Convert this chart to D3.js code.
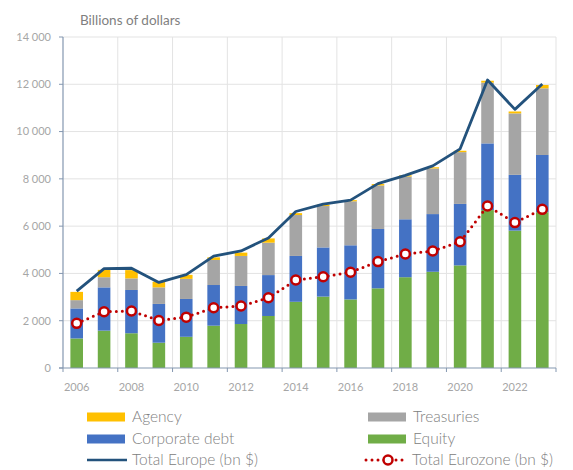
<!DOCTYPE html>
<html lang="en">
<head>
    <meta charset="UTF-8">
    <title>Billions of dollars</title>
    <script src="https://d3js.org/d3.v7.min.js"></script>
    <style>
        body {
            margin: 0;
            background: #ffffff;
            font-family: Lato, "Open Sans", sans-serif;
        }
        .tick-label {
            fill: #a6a6a6;
            font-size: 11px;
        }
        .legend-text {
            fill: #808080;
            font-size: 15.5px;
            font-weight: 300;
        }
    </style>
</head>
<body>
    <div id="chart"></div>

    <script>
        // Years on the category axis
        const years = [2006, 2007, 2008, 2009, 2010, 2011, 2012, 2013, 2014,
                       2015, 2016, 2017, 2018, 2019, 2020, 2021, 2022, 2023];

        // Stacked components (bn $), bottom to top
        const equity     = [1250, 1580, 1470, 1070, 1320, 1790, 1860, 2200, 2800, 3020, 2900, 3370, 3840, 4070, 4340, 6680, 5810, 6590];
        const corporate  = [1270, 1830, 1830, 1640, 1600, 1720, 1610, 1730, 1940, 2080, 2290, 2510, 2450, 2440, 2600, 2820, 2360, 2420];
        const treasuries = [ 350,  430,  490,  700,  850, 1060, 1270, 1370, 1730, 1750, 1860, 1840, 1810, 1930, 2190, 2570, 2600, 2820];
        const agency     = [ 350,  310,  350,  240,  170,  110,  140,  180,   80,   60,   50,   60,   50,   50,   60,   80,   80,  140];

        // Line series (bn $)
        const totalEurope   = [3250, 4200, 4220, 3620, 3950, 4730, 4950, 5500, 6620, 6930, 7100, 7800, 8150, 8550, 9270, 12180, 10940, 12010];
        const totalEurozone = [1890, 2380, 2410, 2010, 2150, 2550, 2620, 2970, 3720, 3860, 4050, 4500, 4820, 4950, 5340, 6850, 6150, 6710];

        const yTicks = [0, 2000, 4000, 6000, 8000, 10000, 12000, 14000];
        const xLabelYears = [2006, 2008, 2010, 2012, 2014, 2016, 2018, 2020, 2022];

        const width = 573;
        const height = 470;
        const plotLeft = 63, plotRight = 556, plotTop = 37, plotBottom = 368;

        const colors = {
            equity: "#70ad47",
            corporate: "#4472c4",
            treasuries: "#a5a5a5",
            agency: "#ffc000",
            europe: "#23527c",
            eurozone: "#c00000"
        };

        const svg = d3.select("#chart")
            .append("svg")
            .attr("width", width)
            .attr("height", height);

        const x = d3.scaleBand()
            .domain(years)
            .range([plotLeft, plotRight])
            .paddingInner(0)
            .paddingOuter(0);

        const y = d3.scaleLinear()
            .domain([0, 14000])
            .range([plotBottom, plotTop]);

        const fmt = v => d3.format(",")(v).replace(/,/g, " ");

        // Horizontal gridlines
        svg.append("g")
            .selectAll("line")
            .data(yTicks.filter(d => d > 0))
            .enter()
            .append("line")
            .attr("x1", plotLeft)
            .attr("x2", plotRight)
            .attr("y1", d => y(d))
            .attr("y2", d => y(d))
            .attr("stroke", "#e3e3e3")
            .attr("stroke-width", 1);

        // Vertical gridlines every two years
        const boundaries = d3.range(2, years.length + 1, 2).map(i => plotLeft + i * x.step());
        svg.append("g")
            .selectAll("line")
            .data(boundaries)
            .enter()
            .append("line")
            .attr("x1", d => d)
            .attr("x2", d => d)
            .attr("y1", plotTop)
            .attr("y2", plotBottom)
            .attr("stroke", "#e3e3e3")
            .attr("stroke-width", 1);

        // Stacked bars
        const stackData = years.map((yr, i) => ({
            year: yr,
            equity: equity[i],
            corporate: corporate[i],
            treasuries: treasuries[i],
            agency: agency[i]
        }));
        const keys = ["equity", "corporate", "treasuries", "agency"];
        const series = d3.stack().keys(keys)(stackData);
        const barW = x.bandwidth() * 0.46;

        svg.append("g")
            .selectAll("g")
            .data(series)
            .enter()
            .append("g")
            .attr("fill", d => colors[d.key])
            .selectAll("rect")
            .data(d => d)
            .enter()
            .append("rect")
            .attr("x", d => x(d.data.year) + (x.bandwidth() - barW) / 2)
            .attr("width", barW)
            .attr("y", d => y(d[1]))
            .attr("height", d => y(d[0]) - y(d[1]));

        // Axes
        const axisColor = "#8497b0";
        svg.append("line")
            .attr("x1", plotLeft).attr("x2", plotLeft)
            .attr("y1", plotTop).attr("y2", plotBottom)
            .attr("stroke", axisColor).attr("stroke-width", 1.2);
        svg.append("line")
            .attr("x1", plotLeft - 4).attr("x2", plotRight)
            .attr("y1", plotBottom).attr("y2", plotBottom)
            .attr("stroke", axisColor).attr("stroke-width", 1.2);

        // Y ticks and labels
        svg.append("g")
            .selectAll("line")
            .data(yTicks)
            .enter()
            .append("line")
            .attr("x1", plotLeft - 4)
            .attr("x2", plotLeft)
            .attr("y1", d => y(d))
            .attr("y2", d => y(d))
            .attr("stroke", axisColor);

        svg.append("g")
            .selectAll("text")
            .data(yTicks)
            .enter()
            .append("text")
            .attr("class", "tick-label")
            .attr("x", plotLeft - 12)
            .attr("y", d => y(d))
            .attr("dy", "0.35em")
            .attr("text-anchor", "end")
            .text(fmt);

        // X ticks and labels
        svg.append("g")
            .selectAll("line")
            .data([plotLeft].concat(boundaries))
            .enter()
            .append("line")
            .attr("x1", d => d)
            .attr("x2", d => d)
            .attr("y1", plotBottom)
            .attr("y2", plotBottom + 4)
            .attr("stroke", axisColor);

        svg.append("g")
            .selectAll("text")
            .data(xLabelYears)
            .enter()
            .append("text")
            .attr("class", "tick-label")
            .attr("x", d => x(d) + x.bandwidth() / 2)
            .attr("y", 387)
            .attr("dy", "0.35em")
            .attr("text-anchor", "middle")
            .text(d => d);

        // Total Europe line
        const line = d3.line()
            .x((d, i) => x(years[i]) + x.bandwidth() / 2)
            .y(d => y(d));

        svg.append("path")
            .datum(totalEurope)
            .attr("d", line)
            .attr("fill", "none")
            .attr("stroke", colors.europe)
            .attr("stroke-width", 2.8)
            .attr("stroke-linejoin", "round");

        // Total Eurozone dotted line with markers
        svg.append("path")
            .datum(totalEurozone)
            .attr("d", line)
            .attr("fill", "none")
            .attr("stroke", colors.eurozone)
            .attr("stroke-width", 3)
            .attr("stroke-linecap", "round")
            .attr("stroke-dasharray", "0,6");

        svg.append("g")
            .selectAll("circle")
            .data(totalEurozone)
            .enter()
            .append("circle")
            .attr("cx", (d, i) => x(years[i]) + x.bandwidth() / 2)
            .attr("cy", d => y(d))
            .attr("r", 4.5)
            .attr("fill", "#ffffff")
            .attr("stroke", colors.eurozone)
            .attr("stroke-width", 2.5);

        // Title
        svg.append("text")
            .attr("x", 80)
            .attr("y", 20)
            .attr("dy", "0.35em")
            .attr("fill", "#7f7f7f")
            .style("font-size", "13.5px")
            .text("Billions of dollars");

        // Legend
        const legendItems = [
            { label: "Agency", type: "rect", color: colors.agency, x: 87, y: 417 },
            { label: "Corporate debt", type: "rect", color: colors.corporate, x: 87, y: 439 },
            { label: "Total Europe (bn $)", type: "line", color: colors.europe, x: 87, y: 460 },
            { label: "Treasuries", type: "rect", color: colors.treasuries, x: 368, y: 417 },
            { label: "Equity", type: "rect", color: colors.equity, x: 368, y: 439 },
            { label: "Total Eurozone (bn $)", type: "dots", color: colors.eurozone, x: 366, y: 460 }
        ];

        const legend = svg.append("g");
        legendItems.forEach(item => {
            if (item.type === "rect") {
                legend.append("rect")
                    .attr("x", item.x)
                    .attr("y", item.y - 4.5)
                    .attr("width", 38)
                    .attr("height", 9)
                    .attr("fill", item.color);
            } else if (item.type === "line") {
                legend.append("line")
                    .attr("x1", item.x).attr("x2", item.x + 40)
                    .attr("y1", item.y).attr("y2", item.y)
                    .attr("stroke", item.color)
                    .attr("stroke-width", 2.5);
            } else {
                legend.append("line")
                    .attr("x1", item.x).attr("x2", item.x + 40)
                    .attr("y1", item.y).attr("y2", item.y)
                    .attr("stroke", item.color)
                    .attr("stroke-width", 3)
                    .attr("stroke-linecap", "round")
                    .attr("stroke-dasharray", "0,6");
                legend.append("circle")
                    .attr("cx", item.x + 22)
                    .attr("cy", item.y)
                    .attr("r", 4.5)
                    .attr("fill", "#ffffff")
                    .attr("stroke", item.color)
                    .attr("stroke-width", 2.5);
            }
            legend.append("text")
                .attr("class", "legend-text")
                .attr("x", item.type === "dots" ? item.x + 46 : item.x + 45)
                .attr("y", item.y)
                .attr("dy", "0.35em")
                .text(item.label);
        });
    </script>
</body>
</html>
